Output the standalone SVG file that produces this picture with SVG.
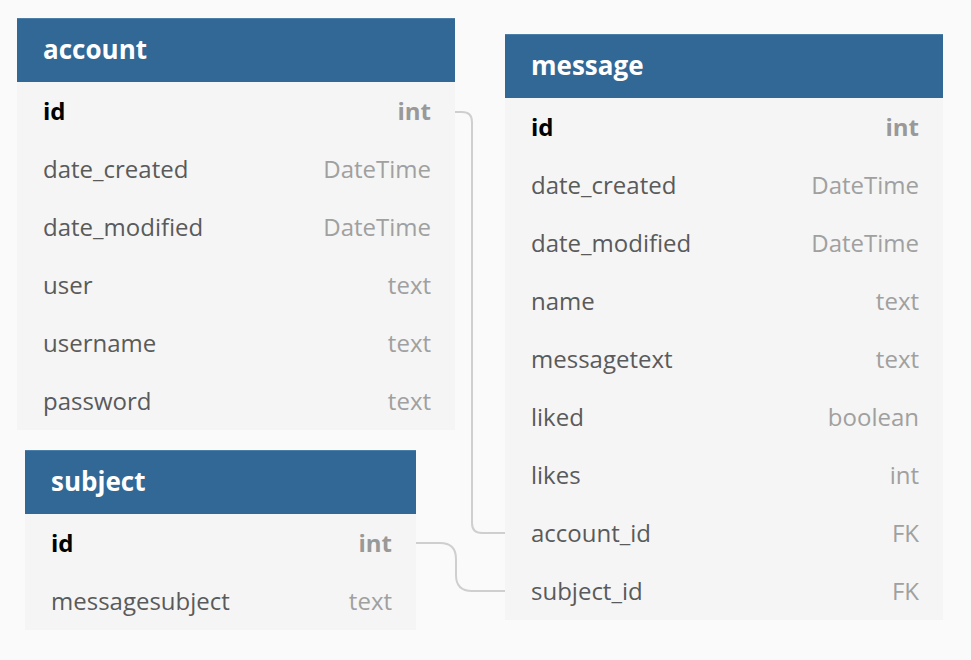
<svg xmlns="http://www.w3.org/2000/svg" width="971" height="660" viewBox="0 0 971 660">
<style>
.bg{fill:#fafafa}
.hd{fill:#316896}
.hl{fill:#4d7ea8}
.bd{fill:#f5f5f5}
.tt{font-family:"Open Sans",sans-serif;font-size:26px;font-weight:bold;fill:#ffffff}
.f{font-family:"Open Sans",sans-serif;font-size:24px;fill:#5a5a5a}
.pk{font-family:"Open Sans",sans-serif;font-size:24px;font-weight:bold;fill:#000000}
.ty{font-family:"Open Sans",sans-serif;font-size:24px;fill:#a0a0a0;text-anchor:end}
.tyb{font-family:"Open Sans",sans-serif;font-size:24px;font-weight:bold;fill:#999999;text-anchor:end}
.c{fill:none;stroke:#cfcfcf;stroke-width:2}
</style>
<rect class="bg" x="0" y="0" width="971" height="660"/>
<g id="connectors">
<path class="c" d="M455 112 H462 Q472 112 472 122 V523 Q472 533 482 533 H505"/>
<path class="c" d="M416 543 H440 Q456 543 456 559 V575 Q456 591 472 591 H505"/>
</g>
<g id="account">
<rect class="bd" x="17" y="82" width="438" height="348"/>
<rect class="hd" x="17" y="18" width="438" height="64"/>
<rect class="hl" x="17" y="18" width="438" height="1"/>
<text class="tt" x="43" y="59">account</text>
<text class="pk" x="43" y="120">id</text><text class="tyb" x="431" y="120">int</text>
<text class="f" x="43" y="178">date_created</text><text class="ty" x="431" y="178">DateTime</text>
<text class="f" x="43" y="236">date_modified</text><text class="ty" x="431" y="236">DateTime</text>
<text class="f" x="43" y="294">user</text><text class="ty" x="431" y="294">text</text>
<text class="f" x="43" y="352">username</text><text class="ty" x="431" y="352">text</text>
<text class="f" x="43" y="410">password</text><text class="ty" x="431" y="410">text</text>
</g>
<g id="message">
<rect class="bd" x="505" y="98" width="438" height="522"/>
<rect class="hd" x="505" y="34" width="438" height="64"/>
<rect class="hl" x="505" y="34" width="438" height="1"/>
<text class="tt" x="531" y="75">message</text>
<text class="pk" x="531" y="136">id</text><text class="tyb" x="919" y="136">int</text>
<text class="f" x="531" y="194">date_created</text><text class="ty" x="919" y="194">DateTime</text>
<text class="f" x="531" y="252">date_modified</text><text class="ty" x="919" y="252">DateTime</text>
<text class="f" x="531" y="310">name</text><text class="ty" x="919" y="310">text</text>
<text class="f" x="531" y="368">messagetext</text><text class="ty" x="919" y="368">text</text>
<text class="f" x="531" y="426">liked</text><text class="ty" x="919" y="426">boolean</text>
<text class="f" x="531" y="484">likes</text><text class="ty" x="919" y="484">int</text>
<text class="f" x="531" y="542">account_id</text><text class="ty" x="919" y="542">FK</text>
<text class="f" x="531" y="600">subject_id</text><text class="ty" x="919" y="600">FK</text>
</g>
<g id="subject">
<rect class="bd" x="25" y="514" width="391" height="116"/>
<rect class="hd" x="25" y="450" width="391" height="64"/>
<rect class="hl" x="25" y="450" width="391" height="1"/>
<text class="tt" x="51" y="491">subject</text>
<text class="pk" x="51" y="552">id</text><text class="tyb" x="392" y="552">int</text>
<text class="f" x="51" y="610">messagesubject</text><text class="ty" x="392" y="610">text</text>
</g>
</svg>
